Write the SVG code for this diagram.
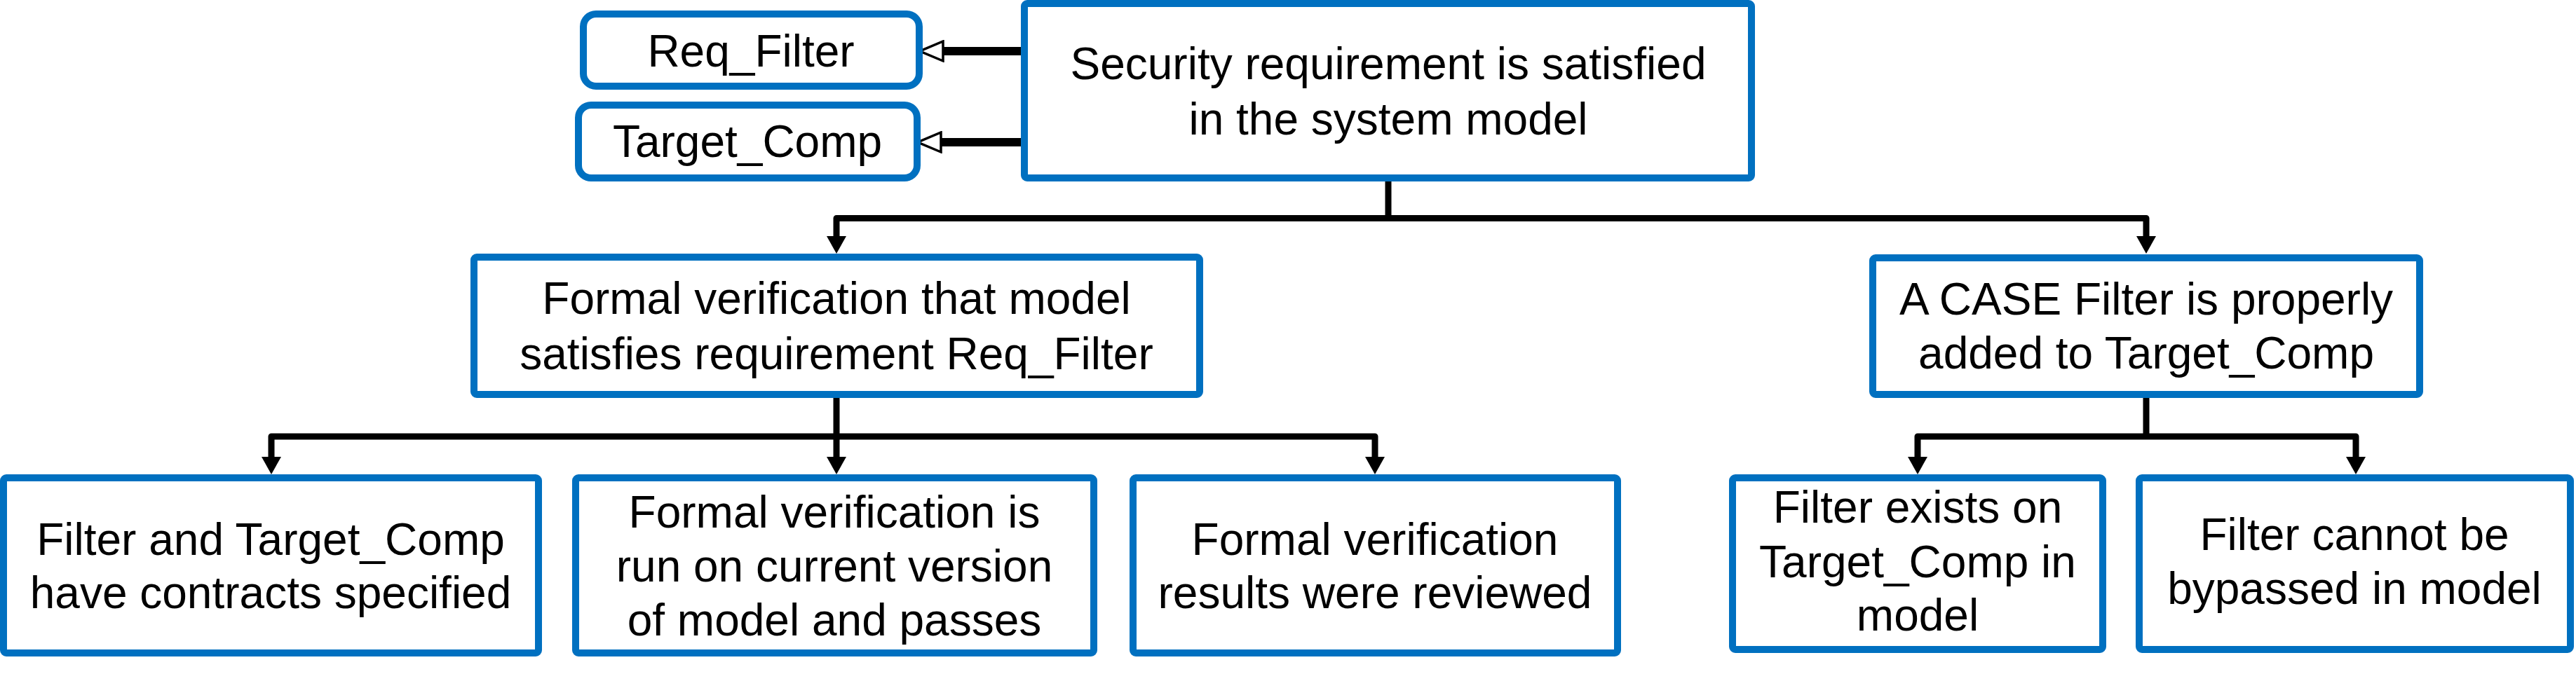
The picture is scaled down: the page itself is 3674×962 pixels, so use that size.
<svg xmlns="http://www.w3.org/2000/svg" width="3674" height="962" viewBox="0 0 3674 962">
<style>
.box{fill:#fff;stroke:#0070C0;stroke-width:10}
.t{font-family:"Liberation Sans",Arial,sans-serif;font-size:64px;fill:#000;text-anchor:middle}
.c{fill:none;stroke:#000;stroke-width:9;stroke-linejoin:round}
.s{fill:none;stroke:#000;stroke-width:12}
</style>
<defs>
<marker id="ah" markerUnits="userSpaceOnUse" viewBox="0 0 25 28" markerWidth="25" markerHeight="28" refX="5" refY="14" orient="auto">
<path d="M0,0 L25,14 L0,28 z" fill="#000"/>
</marker>
<marker id="oh" markerUnits="userSpaceOnUse" viewBox="0 0 38 32" markerWidth="38" markerHeight="32" refX="7" refY="16" orient="auto">
<path d="M2,2 L35,16 L2,30 z" fill="#fff" stroke="#000" stroke-width="3.5" stroke-linejoin="miter"/>
</marker>
</defs>
<rect width="3674" height="962" fill="#fff"/>
<g id="connectors">
<path class="s" d="M1458,73 H1340" marker-end="url(#oh)"/>
<path class="s" d="M1458,203 H1337" marker-end="url(#oh)"/>
<path class="c" d="M1980,256 V311.5"/>
<path class="c" d="M1980,311.5 H1193 V342" marker-end="url(#ah)"/>
<path class="c" d="M1980,311.5 H3061 V342" marker-end="url(#ah)"/>
<path class="c" d="M1193,565 V657" marker-end="url(#ah)"/>
<path class="c" d="M1193,623 H387 V657" marker-end="url(#ah)"/>
<path class="c" d="M1193,623 H1961 V657" marker-end="url(#ah)"/>
<path class="c" d="M3061,565 V623"/>
<path class="c" d="M3061,623 H2735 V657" marker-end="url(#ah)"/>
<path class="c" d="M3061,623 H3360 V657" marker-end="url(#ah)"/>
</g>
<g id="n_top">
<rect class="box" x="1461" y="5" width="1037" height="249" rx="4"/>
<text class="t" x="1980" y="113">Security requirement is satisfied</text>
<text class="t" x="1980" y="192">in the system model</text>
</g>
<g id="n_req">
<rect class="box" x="832" y="20" width="479" height="103" rx="18"/>
<text class="t" x="1071" y="95">Req_Filter</text>
</g>
<g id="n_target">
<rect class="box" x="825" y="150" width="483" height="104" rx="18"/>
<text class="t" x="1066" y="224">Target_Comp</text>
</g>
<g id="n_formal">
<rect class="box" x="676" y="367" width="1035" height="196" rx="4"/>
<text class="t" x="1193" y="448">Formal verification that model</text>
<text class="t" x="1193" y="527">satisfies requirement Req_Filter</text>
</g>
<g id="n_case">
<rect class="box" x="2671" y="368" width="780" height="195" rx="4"/>
<text class="t" x="3061" y="449">A CASE Filter is properly</text>
<text class="t" x="3061" y="526">added to Target_Comp</text>
</g>
<g id="n_contracts">
<rect class="box" x="5" y="682" width="763" height="250" rx="4"/>
<text class="t" x="386" y="792">Filter and Target_Comp</text>
<text class="t" x="386" y="868">have contracts specified</text>
</g>
<g id="n_run">
<rect class="box" x="821" y="682" width="739" height="250" rx="4"/>
<text class="t" x="1190" y="753">Formal verification is</text>
<text class="t" x="1190" y="830">run on current version</text>
<text class="t" x="1190" y="907">of model and passes</text>
</g>
<g id="n_reviewed">
<rect class="box" x="1616" y="682" width="691" height="250" rx="4"/>
<text class="t" x="1961" y="792">Formal verification</text>
<text class="t" x="1961" y="868">results were reviewed</text>
</g>
<g id="n_exists">
<rect class="box" x="2471" y="682" width="528" height="245" rx="4"/>
<text class="t" x="2735" y="746">Filter exists on</text>
<text class="t" x="2735" y="824">Target_Comp in</text>
<text class="t" x="2735" y="900">model</text>
</g>
<g id="n_bypass">
<rect class="box" x="3051" y="682" width="615" height="245" rx="4"/>
<text class="t" x="3358" y="785">Filter cannot be</text>
<text class="t" x="3358" y="862">bypassed in model</text>
</g>
</svg>
